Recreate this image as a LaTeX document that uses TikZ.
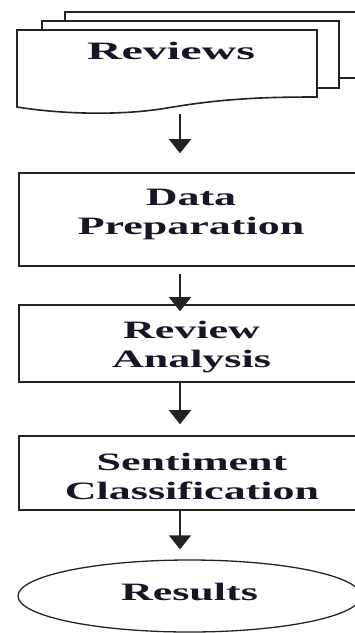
\documentclass[tikz,border=0pt]{standalone}
\usepackage{fontspec}
\setmainfont{Liberation Serif}[FakeStretch=1.76]
\newfontfamily\revfont{Liberation Serif}[FakeStretch=1.92]
\usetikzlibrary{arrows.meta,shapes.geometric,calc}
\definecolor{ink}{RGB}{22,22,40}
\definecolor{edge}{RGB}{35,35,35}
\begin{document}
\begin{tikzpicture}[x=1pt,y=-1pt,
  docshape/.style={draw=edge, line width=1.6pt, fill=white},
  stepbox/.style={draw=edge, line width=1.6pt, rectangle, inner sep=0pt, minimum width=344pt},
  lbl/.style={text=ink, align=center, inner sep=0pt, font=\fontsize{25}{29}\selectfont\bfseries},
  arr/.style={draw=edge, line width=1.6pt, -{Triangle[width=22pt,length=14pt]}}]
\useasboundingbox (0,0) rectangle (355,633);
\clip (0,0) rectangle (355,633);
% stacked documents
\draw[docshape] (65,12) rectangle (366,78);
\draw[docshape] (42,21) rectangle (339,88);
\draw[docshape] (17,107) -- (17,30) -- (317,30) -- (317,97)
  .. controls (270,97) and (225,98) .. (167,108)
  .. controls (120,116) and (60,114) .. (17,107) -- cycle;
\node[lbl, font=\fontsize{25}{29}\selectfont\revfont\bfseries] (rev) at (171,51.3) {Reviews};
\coordinate (revbot) at (180,114);
% process boxes
\node[stepbox, minimum height=93pt] (dp) at (191,219.5) {};
\node[lbl] (dpt) at (191,214.5) {Data\\Preparation};
\node[stepbox, minimum height=77pt] (ra) at (191,343.5) {};
\node[lbl] (rat) at (191.5,347.5) {Review\\Analysis};
\node[stepbox, minimum height=74pt] (sc) at (191,473) {};
\node[lbl] (sct) at (192,476) {Sentiment\\Classification};
\node[lbl, ellipse, draw=edge, line width=1.3pt, minimum width=343pt, minimum height=72pt, text depth=8.5pt] (res) at (189.5,596) {Results};
% connectors
\draw[arr, shorten >=19pt] (revbot) -- (dp.north -| revbot);
\draw[arr, shorten <=7pt, shorten >=-7pt] (dp.south -| revbot) -- (ra.north -| revbot);
\draw[arr, shorten >=11pt] (ra.south -| revbot) -- (sc.north -| revbot);
\draw[arr, shorten >=10pt] (sc.south -| revbot) -- (res.north -| revbot);
\end{tikzpicture}
\end{document}
